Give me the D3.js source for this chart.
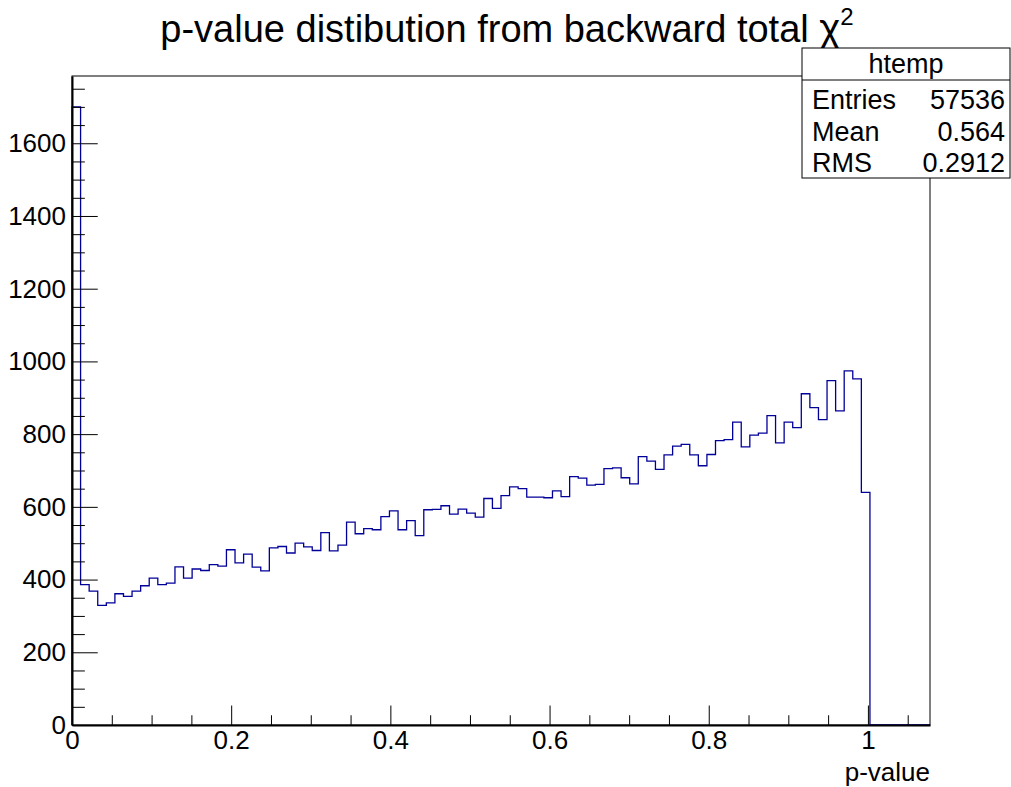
<!DOCTYPE html>
<html>
<head>
<meta charset="utf-8">
<script src="https://cdn.jsdelivr.net/npm/d3@7.9.0/dist/d3.min.js"></script>
<style>
  html, body { margin: 0; padding: 0; background: #fff; }
  svg { display: block; font-family: "Liberation Sans", Arial, Helvetica, sans-serif; }
</style>
</head>
<body>
<svg id="chart" width="1011" height="787"></svg>
<script>
// === Data ===
const nBins = 100;
const xMax = 1.078;
const counts = [
  1700, 386, 368, 329, 336, 361, 354, 368, 383, 404,
  386, 390, 435, 404, 429, 425, 441, 437, 482, 446,
  470, 434, 424, 487, 491, 473, 500, 490, 480, 529,
  479, 495, 558, 526, 540, 537, 573, 589, 537, 562,
  521, 592, 593, 603, 580, 594, 583, 572, 623, 596,
  631, 655, 650, 627, 627, 625, 644, 628, 683, 679,
  660, 662, 705, 707, 680, 663, 738, 726, 703, 743,
  767, 772, 743, 713, 744, 782, 785, 833, 765, 797,
  803, 851, 776, 833, 818, 911, 873, 840, 947, 864,
  974, 952, 640, 0, 0, 0, 0, 0, 0, 0
];
const xTicks = [0, 0.2, 0.4, 0.6, 0.8, 1];
const xTickLabels = ['0', '0.2', '0.4', '0.6', '0.8', '1'];
const xMinorTicks = [0.05, 0.1, 0.15, 0.25, 0.3, 0.35, 0.45, 0.5, 0.55, 0.65, 0.7, 0.75, 0.85, 0.9, 0.95, 1.05];
const yTicks = [0, 200, 400, 600, 800, 1000, 1200, 1400, 1600];
const yMinorTicks = [50, 100, 150, 250, 300, 350, 450, 500, 550, 650, 700, 750, 850, 900, 950,
  1050, 1100, 1150, 1250, 1300, 1350, 1450, 1500, 1550, 1650, 1700, 1750];
const yMax = 1785;
const statsName = 'htemp';
const statsRows = [['Entries', '57536'], ['Mean', '0.564'], ['RMS', '0.2912']];

// === Frame ===
const frame = { left: 72, right: 930, top: 76, bottom: 725 };
const svg = d3.select('#chart');

const x = d3.scaleLinear().domain([0, xMax]).range([frame.left, frame.right]);
const y = d3.scaleLinear().domain([0, yMax]).range([frame.bottom, frame.top]);

svg.append('rect')
  .attr('x', frame.left).attr('y', frame.top)
  .attr('width', frame.right - frame.left).attr('height', frame.bottom - frame.top)
  .attr('fill', 'none').attr('stroke', '#000').attr('stroke-width', 1);

// === Histogram outline ===
const binW = xMax / nBins;
const pts = [{ x: 0, y: 0 }]
  .concat(counts.map((c, i) => ({ x: i * binW, y: c })))
  .concat([{ x: xMax, y: 0 }]);

const line = d3.line()
  .x(d => x(d.x))
  .y(d => y(d.y))
  .curve(d3.curveStepAfter);

svg.append('path')
  .attr('d', line(pts))
  .attr('fill', 'none')
  .attr('stroke', '#000099')
  .attr('stroke-width', 1.3);

// === Axes (ticks point inward, like ROOT) ===
const xTickLen = 0.03 * (frame.bottom - frame.top);
const yTickLen = 0.03 * (frame.right - frame.left);

const gx = svg.append('g')
  .attr('transform', `translate(0,${frame.bottom})`)
  .call(d3.axisBottom(x).tickValues(xTicks)
    .tickFormat((d, i) => xTickLabels[i])
    .tickSizeInner(-xTickLen).tickSizeOuter(0).tickPadding(6));
svg.append('g')
  .attr('transform', `translate(0,${frame.bottom})`)
  .call(d3.axisBottom(x).tickValues(xMinorTicks).tickFormat('')
    .tickSizeInner(-xTickLen / 2).tickSizeOuter(0))
  .call(g => g.select('.domain').remove());

const gy = svg.append('g')
  .attr('transform', `translate(${frame.left},0)`)
  .call(d3.axisLeft(y).tickValues(yTicks).tickFormat(d3.format('d'))
    .tickSizeInner(-yTickLen).tickSizeOuter(0).tickPadding(6));
svg.append('g')
  .attr('transform', `translate(${frame.left},0)`)
  .call(d3.axisLeft(y).tickValues(yMinorTicks).tickFormat('')
    .tickSizeInner(-yTickLen / 2).tickSizeOuter(0))
  .call(g => g.select('.domain').remove());

svg.selectAll('.tick line').attr('stroke', '#000').attr('stroke-width', 1);
svg.selectAll('.domain').attr('stroke', '#000').attr('stroke-width', 2);
gx.selectAll('text').attr('font-size', 26).attr('fill', '#000').attr('font-family', null);
gy.selectAll('text').attr('font-size', 26).attr('fill', '#000').attr('font-family', null);

// axis title
svg.append('text')
  .attr('x', frame.right).attr('y', 781)
  .attr('text-anchor', 'end')
  .attr('font-size', 26)
  .text('p-value');

// === Title ===
const title = svg.append('text')
  .attr('x', 507).attr('y', 42)
  .attr('text-anchor', 'middle')
  .attr('font-size', 38);
title.append('tspan').text('p-value distibution from backward total ');
title.append('tspan').attr('font-size', 40).text('χ');
title.append('tspan').attr('font-size', 24).attr('dy', -17).text('2');

// === Stats box ===
const box = { x: 802, y: 48, w: 208, h: 130, head: 32 };
const stats = svg.append('g');
stats.append('rect')
  .attr('x', box.x).attr('y', box.y).attr('width', box.w).attr('height', box.h)
  .attr('fill', '#fff').attr('stroke', '#000').attr('stroke-width', 1);
stats.append('line')
  .attr('x1', box.x).attr('x2', box.x + box.w)
  .attr('y1', box.y + box.head).attr('y2', box.y + box.head)
  .attr('stroke', '#000');
stats.append('text')
  .attr('x', box.x + box.w / 2).attr('y', box.y + 25)
  .attr('text-anchor', 'middle').attr('font-size', 27)
  .text(statsName);
statsRows.forEach(([k, v], i) => {
  const by = box.y + box.head + 29 + i * 31.5;
  stats.append('text').attr('x', box.x + 10).attr('y', by)
    .attr('font-size', 27).text(k);
  stats.append('text').attr('x', box.x + box.w - 5).attr('y', by)
    .attr('text-anchor', 'end').attr('font-size', 27).text(v);
});
</script>
</body>
</html>
